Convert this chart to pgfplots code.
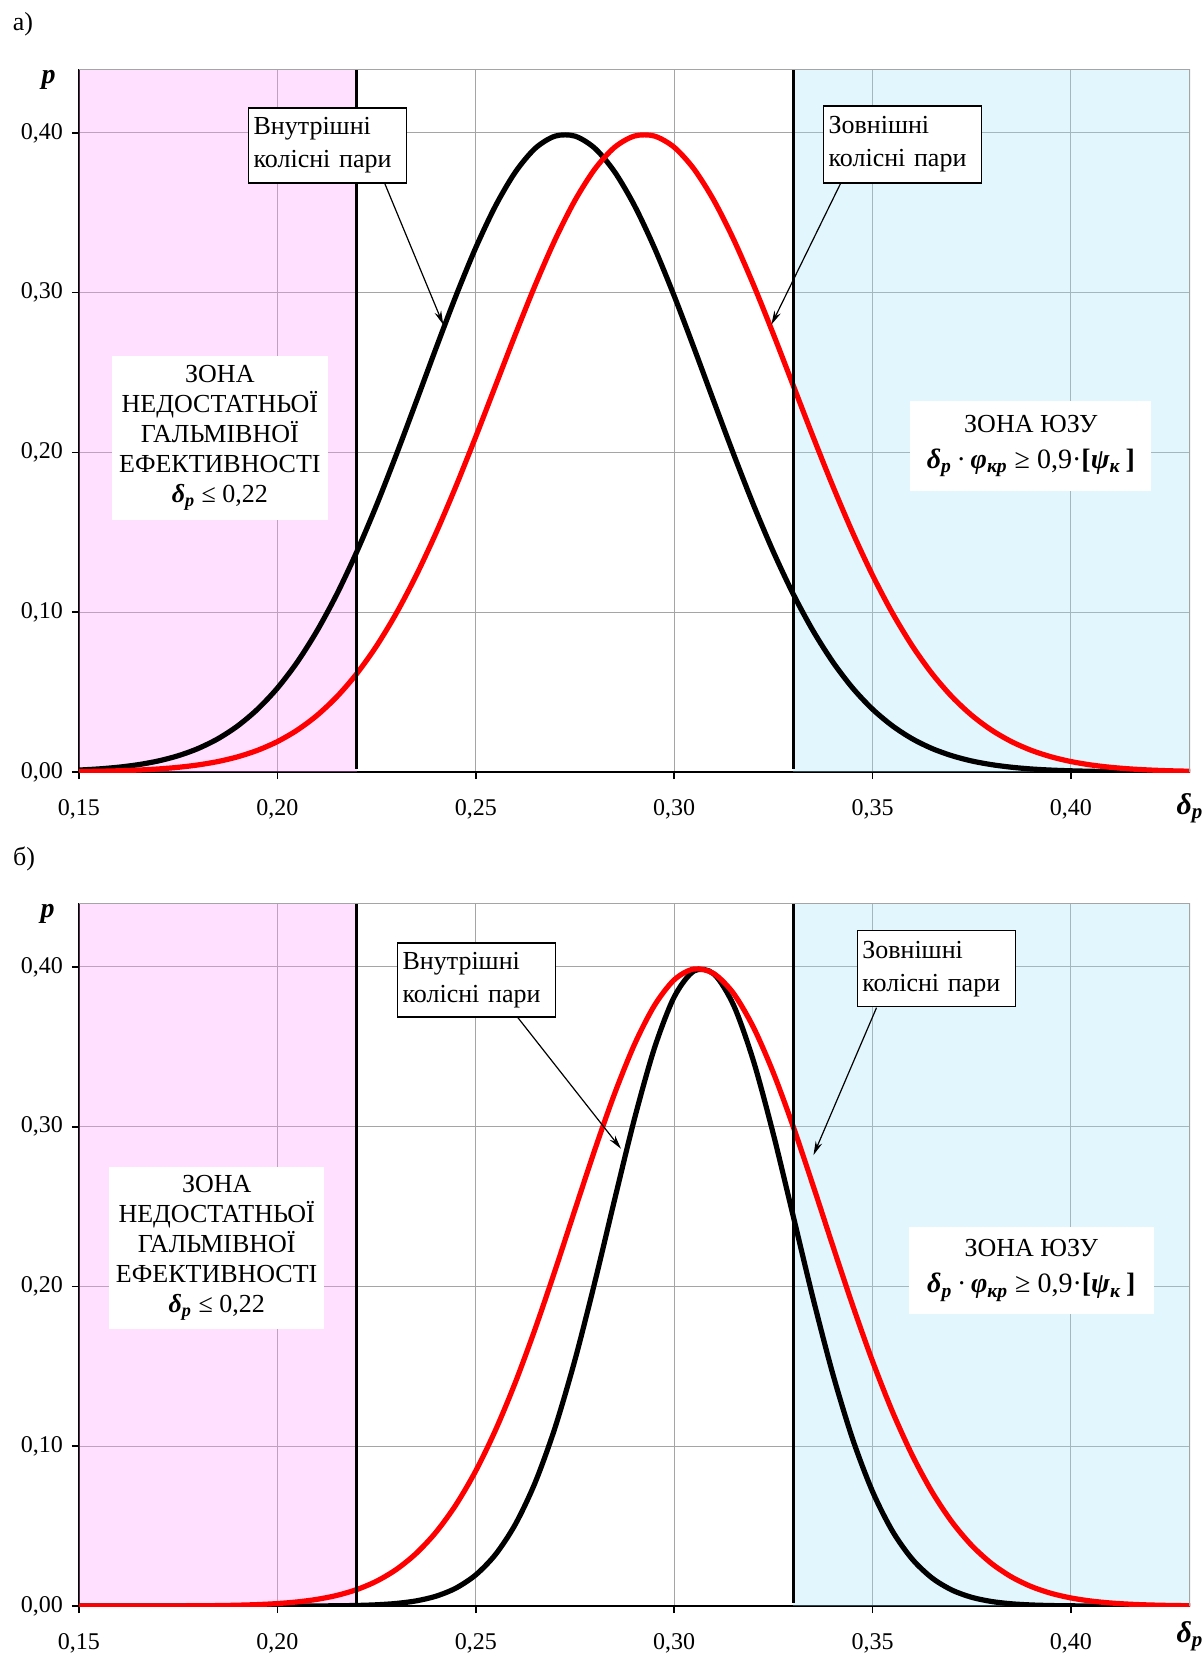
\documentclass[border=0pt]{standalone}
\usepackage{fontspec}
\setmainfont{Liberation Serif}
\usepackage{pgfplots}
\pgfplotsset{compat=1.18}
\usetikzlibrary{arrows.meta}
\definecolor{zpink}{RGB}{255,155,255}
\definecolor{zblue}{RGB}{158,225,248}
\definecolor{gridgray}{RGB}{165,165,165}
\definecolor{pred}{RGB}{255,0,0}
\newcommand{\bi}[1]{\textbf{\textit{#1}}}
\pgfplotsset{
  myaxis/.style={
    scale only axis, width=555.5pt, height=351.5pt,
    xmin=0.15, xmax=0.43, ymin=0, ymax=0.44,
    xtick={0.15,0.2,0.25,0.3,0.35,0.4}, ytick={0,0.1,0.2,0.3,0.4},
    grid=major, major grid style={line width=0.5pt, draw=gridgray},
    axis lines*=left, axis line style={line width=1.1pt, -},
    tick align=outside, major tick length=3.5pt,
    tick style={line width=0.8pt, black},
    ticklabel style={font=\fontsize{12}{14}\selectfont,
      /pgf/number format/fixed, /pgf/number format/fixed zerofill,
      /pgf/number format/precision=2, /pgf/number format/use comma,
      /pgf/number format/assume math mode=true},
    xticklabel style={yshift=-6.5pt},
    yticklabel style={xshift=-1pt},
  },
  bcurve/.style={black, line width=2.6pt, smooth},
  rcurve/.style={pred, line width=2.6pt, smooth},
  zone/.style={draw=none, fill opacity=0.3, forget plot},
}
\tikzset{
  lbox/.style={draw=black, line width=0.6pt, fill=white, align=left, anchor=west,
    text width=74pt, inner xsep=2.5pt, inner ysep=1pt, minimum height=37.5pt,
    font=\fontsize{13}{16.5}\selectfont},
  zbox/.style={fill=white, align=center, inner sep=0pt,
    font=\fontsize{13}{15}\selectfont},
  arr/.style={line width=0.6pt, -{Stealth[length=7pt,width=3.5pt]}},
}
\newcommand{\zonelow}{ЗОНА\\НЕДОСТАТНЬОЇ\\ГАЛЬМІВНОЇ\\ЕФЕКТИВНОСТІ\\\bi{δ}\textsubscript{\bi{p}} ≤ 0,22}
\newcommand{\zonehigh}{ЗОНА ЮЗУ\\[3pt]{\fontsize{14}{15}\selectfont\bi{δ}\textsubscript{\bi{p}}\,·\,\bi{φ}\textsubscript{\bi{кр}} ≥ 0,9·\textbf{[}\bi{ψ}\textsubscript{\bi{к}}\textbf{\,]}}}
\begin{document}
\begin{tikzpicture}
\useasboundingbox (0,0) rectangle (601.5pt,-828pt);
% ---------------- a) ----------------
\begin{axis}[myaxis, at={(39.5pt,-386pt)}, anchor=south west]
\addplot[zone, fill=zpink] coordinates {(0.15,0) (0.22,0) (0.22,0.44) (0.15,0.44)};
\addplot[zone, fill=zblue] coordinates {(0.33,0) (0.43,0) (0.43,0.44) (0.33,0.44)};
\addplot[bcurve] coordinates {(0.150,0.00122) (0.155,0.00194) (0.160,0.00302) (0.165,0.00462) (0.170,0.00693) (0.175,0.01019) (0.180,0.01470) (0.185,0.02080) (0.190,0.02887) (0.195,0.03932) (0.200,0.05250) (0.205,0.06878) (0.210,0.08841) (0.215,0.1114) (0.220,0.1378) (0.225,0.1671) (0.230,0.1988) (0.235,0.2319) (0.240,0.2654) (0.245,0.2980) (0.250,0.3282) (0.255,0.3545) (0.260,0.3756) (0.265,0.3904) (0.270,0.3980) (0.275,0.3980) (0.280,0.3904) (0.285,0.3756) (0.290,0.3545) (0.295,0.3282) (0.300,0.2980) (0.305,0.2654) (0.310,0.2319) (0.315,0.1988) (0.320,0.1671) (0.325,0.1378) (0.330,0.1114) (0.335,0.0884) (0.340,0.0688) (0.345,0.0525) (0.350,0.0393) (0.355,0.0289) (0.360,0.0208) (0.365,0.0147) (0.370,0.0102) (0.375,0.0069) (0.380,0.0046) (0.385,0.0030) (0.390,0.0019) (0.395,0.0012) (0.400,0.00075) (0.405,0.00046) (0.410,0.00027) (0.415,0.00016) (0.420,0.00009) (0.425,0.00005) (0.430,0.00003)};
\addplot[rcurve] coordinates {(0.150,0.00029) (0.155,0.00048) (0.160,0.00078) (0.165,0.00123) (0.170,0.00192) (0.175,0.00294) (0.180,0.00443) (0.185,0.00655) (0.190,0.00952) (0.195,0.01358) (0.200,0.01904) (0.205,0.02622) (0.210,0.03547) (0.215,0.04714) (0.220,0.06155) (0.225,0.07895) (0.230,0.09948) (0.235,0.12314) (0.240,0.14973) (0.245,0.17886) (0.250,0.20989) (0.255,0.24197) (0.260,0.27404) (0.265,0.30489) (0.270,0.33323) (0.275,0.35778) (0.280,0.37738) (0.285,0.39104) (0.290,0.39805) (0.295,0.39805) (0.300,0.39104) (0.305,0.37738) (0.310,0.35778) (0.315,0.33323) (0.320,0.30489) (0.325,0.27404) (0.330,0.24197) (0.335,0.20989) (0.340,0.17886) (0.345,0.14973) (0.350,0.12314) (0.355,0.09948) (0.360,0.07895) (0.365,0.06155) (0.370,0.04714) (0.375,0.03547) (0.380,0.02622) (0.385,0.01904) (0.390,0.01358) (0.395,0.00952) (0.400,0.00655) (0.405,0.00443) (0.410,0.00294) (0.415,0.00192) (0.420,0.00123) (0.425,0.00078) (0.430,0.00048)};
\addplot[black, line width=1.3pt] coordinates {(0.22,0.002) (0.22,0.44)};
\addplot[black, line width=1.3pt] coordinates {(0.33,0.002) (0.33,0.44)};
\draw[gridgray, line width=0.6pt] (rel axis cs:0,1) -- (rel axis cs:1,1) -- (rel axis cs:1,0);
\node[lbox] at (axis cs:0.19259,0.3921) {Внутрішні\\колісні пари};
\node[lbox, minimum height=38.5pt] at (axis cs:0.3375,0.3928) {Зовнішні\\колісні пари};
\draw[arr] (axis cs:0.2270,0.3687) -- (axis cs:0.2418,0.280);
\draw[arr] (axis cs:0.3420,0.3687) -- (axis cs:0.3245,0.280);
\node[zbox, minimum width=108pt, minimum height=82pt] at (axis cs:0.1855,0.209) {\zonelow};
\node[zbox, minimum width=120.5pt, minimum height=45pt] at (axis cs:0.3899,0.2039) {\zonehigh};
\end{axis}
% ---------------- б) ----------------
\begin{axis}[myaxis, at={(39.5pt,-803pt)}, anchor=south west]
\addplot[zone, fill=zpink] coordinates {(0.15,0) (0.22,0) (0.22,0.44) (0.15,0.44)};
\addplot[zone, fill=zblue] coordinates {(0.33,0) (0.43,0) (0.43,0.44) (0.33,0.44)};
\addplot[bcurve] coordinates {(0.150,0) (0.180,0) (0.200,0.00001) (0.205,0.00003) (0.210,0.000064) (0.215,0.000154) (0.220,0.000353) (0.225,0.000773) (0.230,0.001618) (0.235,0.003231) (0.240,0.006164) (0.245,0.011224) (0.250,0.019505) (0.255,0.032356) (0.260,0.051256) (0.265,0.077495) (0.270,0.11185) (0.275,0.15409) (0.280,0.20269) (0.285,0.25447) (0.290,0.30501) (0.295,0.34899) (0.300,0.38119) (0.305,0.39746) (0.310,0.39562) (0.315,0.37591) (0.320,0.34098) (0.325,0.29526) (0.330,0.24405) (0.335,0.19259) (0.340,0.14506) (0.345,0.10432) (0.350,0.07161) (0.355,0.04692) (0.360,0.02935) (0.365,0.01753) (0.370,0.00999) (0.375,0.00544) (0.380,0.00282) (0.385,0.00140) (0.390,0.00066) (0.395,0.00030) (0.400,0.00013) (0.405,0.00005) (0.410,0.00002) (0.420,0) (0.430,0)};
\addplot[rcurve] coordinates {(0.150,0.0000024) (0.155,0.000005) (0.160,0.000011) (0.165,0.000021) (0.170,0.000043) (0.175,0.000082) (0.180,0.000156) (0.185,0.000286) (0.190,0.000515) (0.195,0.000902) (0.200,0.001542) (0.205,0.002572) (0.210,0.004187) (0.215,0.006649) (0.220,0.010298) (0.225,0.015560) (0.230,0.022940) (0.235,0.032990) (0.240,0.046289) (0.245,0.063363) (0.250,0.084619) (0.255,0.11026) (0.260,0.14013) (0.265,0.17377) (0.270,0.21019) (0.275,0.24806) (0.280,0.28559) (0.285,0.32079) (0.290,0.35151) (0.295,0.37577) (0.300,0.39190) (0.305,0.39874) (0.310,0.39580) (0.315,0.38328) (0.320,0.36209) (0.325,0.33373) (0.330,0.30007) (0.335,0.26322) (0.340,0.22526) (0.345,0.18806) (0.350,0.15317) (0.355,0.12172) (0.360,0.09436) (0.365,0.07136) (0.370,0.05265) (0.375,0.03789) (0.380,0.02660) (0.385,0.01823) (0.390,0.01218) (0.395,0.00794) (0.400,0.00505) (0.405,0.00314) (0.410,0.00190) (0.415,0.00112) (0.420,0.00065) (0.425,0.00036) (0.430,0.00020)};
\addplot[black, line width=1.3pt] coordinates {(0.22,0.002) (0.22,0.44)};
\addplot[black, line width=1.3pt] coordinates {(0.33,0.002) (0.33,0.44)};
\draw[gridgray, line width=0.6pt] (rel axis cs:0,1) -- (rel axis cs:1,1) -- (rel axis cs:1,0);
\node[lbox, minimum height=37pt] at (axis cs:0.23014,0.3918) {Внутрішні\\колісні пари};
\node[lbox, minimum height=38pt] at (axis cs:0.3460,0.3989) {Зовнішні\\колісні пари};
\draw[arr] (axis cs:0.2605,0.3686) -- (axis cs:0.2866,0.2862);
\draw[arr] (axis cs:0.3510,0.3745) -- (axis cs:0.3351,0.2822);
\node[zbox, minimum width=107.5pt, minimum height=81pt] at (axis cs:0.1847,0.2241) {\zonelow};
\node[zbox, minimum width=122.5pt, minimum height=43.5pt] at (axis cs:0.3900,0.2100) {\zonehigh};
\end{axis}
% ---------------- labels ----------------
\node[font=\fontsize{13}{15}\selectfont] at (11.5pt,-12pt) {а)};
\node[font=\fontsize{13}{15}\selectfont] at (12pt,-429.5pt) {б)};
\node[font=\fontsize{14}{16}\selectfont] at (24.25pt,-40pt) {\bi{p}};
\node[font=\fontsize{14}{16}\selectfont] at (23.75pt,-457pt) {\bi{p}};
\node[font=\fontsize{15}{17}\selectfont] at (595pt,-404pt) {\bi{δ}\textsubscript{\bi{p}}};
\node[font=\fontsize{15}{17}\selectfont] at (595pt,-818pt) {\bi{δ}\textsubscript{\bi{p}}};
\end{tikzpicture}
\end{document}
